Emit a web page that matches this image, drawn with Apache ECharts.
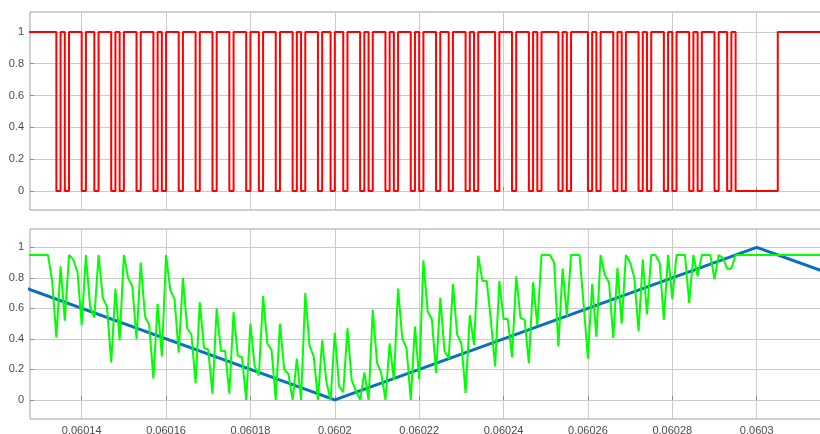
<!DOCTYPE html>
<html>
<head>
<meta charset="utf-8">
<script src="https://cdn.jsdelivr.net/npm/echarts@6/dist/echarts.min.js"></script>
<style>
  html, body { margin: 0; padding: 0; background: #ffffff; overflow: hidden; }
  #chart { width: 820px; height: 434px; }
</style>
</head>
<body>
<div id="chart"></div>
<script>
// Sampled signals: one value per microsecond, starting at sampleStart
const sampleStart = 0.060127;
const sampleStep = 1e-6;

// Gate signal (switching state) per sample
const pwmState = [
  1,1,1,1,1,1,1,0,1,0,
  1,1,1,0,1,1,0,1,1,1,
  0,1,0,1,1,1,0,1,1,1,
  0,1,0,1,1,1,0,1,1,1,
  0,1,1,1,0,1,1,1,0,1,
  1,1,0,1,1,0,1,1,1,0,
  1,1,1,0,1,0,1,1,1,0,
  1,1,0,1,1,0,1,1,1,0,
  1,0,1,1,1,0,1,0,1,1,
  1,0,1,0,1,1,1,0,1,1,
  0,1,1,1,0,1,0,1,1,1,
  1,0,1,1,1,0,1,1,1,0,
  1,0,1,1,1,1,0,1,0,1,
  1,1,1,0,1,0,1,1,1,0,
  1,0,1,1,1,0,1,0,1,1,
  1,0,1,0,1,1,1,0,1,0,
  1,1,1,0,1,1,0,1,0,0,
  0,0,0,0,0,0,0,0,1,1,
  1,1,1,1,1,1,1,1,1,1
];

// Modulating signal per sample
const modSignal = [
  0.95,0.95,0.95,0.95,0.95,0.95,0.78,0.41,0.875,0.52,
  0.95,0.92,0.84,0.49,0.95,0.61,0.54,0.95,0.67,0.61,
  0.245,0.73,0.39,0.95,0.80,0.745,0.40,0.90,0.55,0.49,
  0.14,0.63,0.285,0.95,0.72,0.66,0.31,0.80,0.47,0.43,
  0.11,0.64,0.34,0.33,0.04,0.60,0.32,0.32,0.04,0.575,
  0.29,0.28,0.0,0.50,0.22,0.16,0.68,0.37,0.33,0.0,
  0.50,0.20,0.17,0.0,0.27,0.0,0.70,0.355,0.285,0.0,
  0.39,0.12,0.0,0.44,0.09,0.05,0.47,0.13,0.06,0.0,
  0.18,0.0,0.59,0.245,0.175,0.0,0.37,0.13,0.73,0.40,
  0.34,0.0,0.48,0.135,0.915,0.58,0.53,0.175,0.67,0.32,
  0.27,0.76,0.43,0.37,0.045,0.555,0.36,0.945,0.78,0.78,
  0.52,0.22,0.78,0.53,0.53,0.28,0.81,0.54,0.525,0.24,
  0.77,0.49,0.95,0.95,0.95,0.90,0.35,0.86,0.55,0.95,
  0.95,0.95,0.62,0.27,0.76,0.415,0.95,0.82,0.77,0.405,
  0.865,0.50,0.95,0.90,0.80,0.45,0.92,0.56,0.95,0.95,
  0.90,0.525,0.95,0.66,0.95,0.95,0.95,0.635,0.95,0.81,
  0.95,0.95,0.95,0.79,0.95,0.93,0.86,0.86,0.95,0.95,
  0.95,0.95,0.95,0.95,0.95,0.95,0.95,0.95,0.95,0.95,
  0.95,0.95,0.95,0.95,0.95,0.95,0.95,0.95,0.95,0.95
];

// Triangular carrier vertices
const carrierTimes = [0.0601, 0.0602, 0.0603, 0.0604];
const carrierValues = [1, 0, 1, 0];

// Axis ticks and ranges
const timeTicks = [0.06014, 0.06016, 0.06018, 0.0602, 0.06022, 0.06024, 0.06026, 0.06028, 0.0603];
const levelTicks = [0, 0.2, 0.4, 0.6, 0.8, 1];
const timeRange = [0.06012775, 0.06031572];
const levelRangeTop = [-0.12, 1.125];
const levelRangeBottom = [-0.125, 1.12];

const sampled = arr => arr.map((v, i) => [sampleStart + i * sampleStep, v]);
const carrier = carrierTimes.map((t, i) => [t, carrierValues[i]]);

const labelFont = { fontFamily: 'Liberation Sans, Arial, sans-serif', fontSize: 11, color: '#4a4a4a' };
const gridLine = { show: true, lineStyle: { color: '#cbcbcb', width: 1 } };

function timeAxis(gridIndex, showLabels) {
  return {
    type: 'value', gridIndex,
    min: timeRange[0], max: timeRange[1],
    axisLine: { show: false },
    axisTick: { show: true, inside: true, length: 4, lineStyle: { color: '#8a8a8a' }, customValues: timeTicks },
    axisLabel: Object.assign({
      show: showLabels, margin: 6,
      customValues: timeTicks,
      formatter: v => String(+v.toFixed(5))
    }, labelFont),
    splitLine: gridLine
  };
}
function levelAxis(gridIndex, range) {
  return {
    type: 'value', gridIndex,
    min: range[0], max: range[1],
    axisLine: { show: false },
    axisTick: { show: true, inside: true, length: 4, lineStyle: { color: '#8a8a8a' }, customValues: levelTicks },
    axisLabel: Object.assign({
      margin: 6,
      customValues: levelTicks,
      formatter: v => String(+v.toFixed(1))
    }, labelFont),
    splitLine: gridLine
  };
}

const gridBase = {
  left: 30, width: 793,
  outerBoundsMode: 'none', containLabel: false,
  show: true, borderColor: '#a0a0a0', borderWidth: 1, backgroundColor: 'transparent'
};

const chart = echarts.init(document.getElementById('chart'), null, { renderer: 'canvas' });
chart.setOption({
  animation: false,
  backgroundColor: '#ffffff',
  grid: [
    Object.assign({ top: 12, height: 198 }, gridBase),
    Object.assign({ top: 229, height: 190 }, gridBase)
  ],
  xAxis: [timeAxis(0, false), timeAxis(1, true)],
  yAxis: [levelAxis(0, levelRangeTop), levelAxis(1, levelRangeBottom)],
  series: [
    {
      type: 'line', xAxisIndex: 0, yAxisIndex: 0,
      data: sampled(pwmState), step: 'end',
      showSymbol: false, clip: true,
      lineStyle: { color: '#ff0000', width: 2 }
    },
    {
      type: 'line', xAxisIndex: 1, yAxisIndex: 1,
      data: carrier,
      showSymbol: false, clip: true,
      lineStyle: { color: '#0a6fc2', width: 3 }
    },
    {
      type: 'line', xAxisIndex: 1, yAxisIndex: 1,
      data: sampled(modSignal),
      showSymbol: false, clip: true,
      lineStyle: { color: '#00ff00', width: 2 }
    }
  ]
});
</script>
</body>
</html>
